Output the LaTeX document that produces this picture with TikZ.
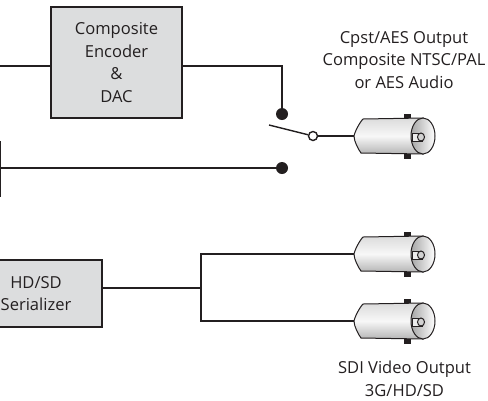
\documentclass[tikz,border=0pt]{standalone}
\usepackage{fontspec}
\setmainfont{Open Sans}
\usetikzlibrary{calc}
\definecolor{ink}{HTML}{231F20}
\definecolor{boxgray}{HTML}{DCDDDE}
\tikzset{
  x=1bp,y=-1bp,
  blockbox/.style={draw=ink,line width=1.4bp,fill=boxgray,inner sep=0pt,align=center,font=\fontsize{16.6}{22.6}\selectfont,text=ink},
  wire/.style={draw=ink,line width=1.4bp},
  lbl/.style={align=center,font=\fontsize{16.6}{22.6}\selectfont,text=ink,inner sep=0pt},
  dotnode/.style={circle,fill=ink,inner sep=0pt,minimum size=12bp},
  opennode/.style={circle,draw=ink,line width=1.4bp,fill=white,inner sep=0pt,minimum size=9bp},
  bncpart/.style={draw=ink,line width=1bp},
  pics/bnc/.style={code={
    \coordinate (-in) at (-1,0);
    \fill[ink] (49,-22) rectangle (56,23);
    \path[bncpart,top color=gray!28,bottom color=gray!58,middle color=white!94!gray,shading angle=0]
      (-1,0) .. controls (0,-5) and (5,-14) .. (8,-17) -- (68,-18)
      -- (68,18) -- (6,17) .. controls (3,13) and (-1,5) .. (-1,0) -- cycle;
    \path[bncpart,left color=gray!70,right color=white]
      (68,0) ellipse [x radius=12,y radius=18];
    \path[bncpart,fill=white!85!gray] (57,-3) rectangle (67,5);
    \draw[bncpart,fill=gray!35] (66,1) ellipse [x radius=3.5,y radius=4];
  }}
}
\begin{document}
\begin{tikzpicture}
\useasboundingbox (0,0) rectangle (488,400);
\node[blockbox,minimum width=131bp,minimum height=111bp] (enc) at (116.5,62.5) {Composite\\Encoder\\\&\\DAC};
\node[blockbox,minimum width=132bp,minimum height=67bp] (ser) at (36,293.5) {HD/SD\\Serializer};
\node[dotnode] (d1) at (282,114) {};
\node[dotnode] (d2) at (282,168) {};
\node[opennode] (o) at (313,136) {};
\coordinate (swend) at (269,125);
\coordinate (w1) at (0,66);
\coordinate (w2) at (0,168);
\coordinate (barT) at (0,141);
\coordinate (barB) at (0,197);
\coordinate (split) at (201,288);
\pic (c1) at (355,136) {bnc};
\pic (c2) at (355,254) {bnc};
\pic (c3) at (355,321) {bnc};
\draw[wire] (w1) -- (enc.west |- w1);
\draw[wire] (enc.east |- w1) -| (d1);
\draw[wire] (w2) -- (d2);
\draw[wire] (barT) -- (barB);
\draw[wire] (swend) -- (o);
\draw[wire] (o) -- (c1-in);
\draw[wire] (ser.east |- split) -- (split);
\draw[wire] (c2-in) -| (split);
\draw[wire] (c3-in) -| (split);
\node[lbl] (t1) at (404,60) {Cpst/AES Output\\Composite NTSC/PAL\\or AES Audio};
\node[lbl] (t2) at (404.5,379) {SDI Video Output\\3G/HD/SD};
\end{tikzpicture}
\end{document}
